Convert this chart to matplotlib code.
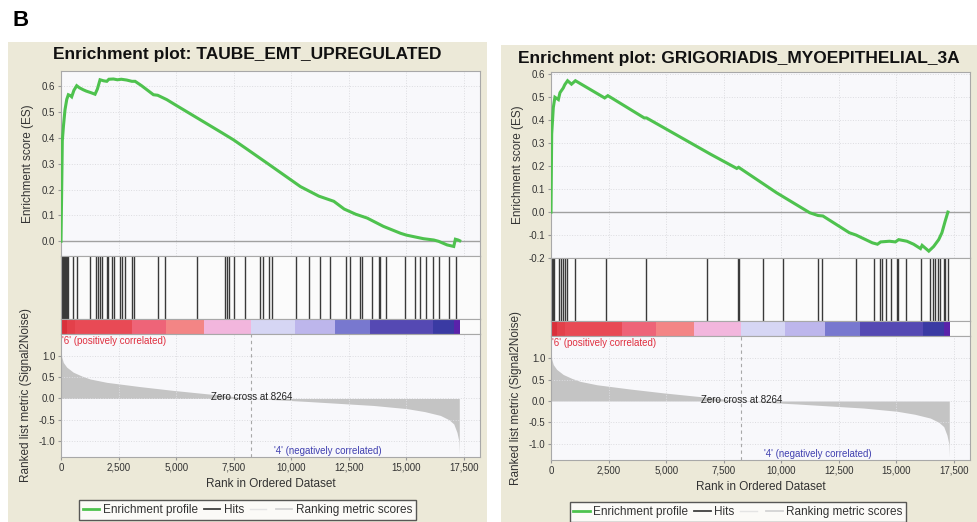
import numpy as np
import matplotlib
matplotlib.use("Agg")
import matplotlib.pyplot as plt
from matplotlib.patches import Rectangle
from matplotlib.lines import Line2D

plt.rcParams['font.family'] = ['Liberation Sans', 'DejaVu Sans']

W, H = 978, 522

# ---- data ----
# shared ranked list (same dataset in both panels)
metric_rank = [0, 30, 100, 245, 530, 900, 1260, 1990, 3430, 4880, 6340, 7780, 8264,
               10690, 13580, 15030, 15800, 16480, 16850, 17060, 17200, 17280, 17300]
metric_vals = [1.22, 0.98, 0.85, 0.74, 0.62, 0.53, 0.46, 0.38, 0.28, 0.19, 0.11, 0.03, 0.0,
               -0.07, -0.165, -0.24, -0.31, -0.40, -0.50, -0.60, -0.80, -1.0, -1.3]
zero_cross = 8264
n_genes = 17320

cbar_edges = [0, 248, 609, 3075, 4554, 6190, 8264, 10179, 11889, 13412, 16152, 17065, 17320]
cbar_colors = ['#d9303a', '#e3404a', '#e84a55', '#ee6478', '#f38585', '#f2b6dd',
               '#d6d6f4', '#bdb6ec', '#7878cf', '#5549b3', '#3a3aa3', '#5a22aa']

# left: TAUBE_EMT_UPREGULATED
left_title = "Enrichment plot: TAUBE_EMT_UPREGULATED"
left_es_rank = [0, 30, 57, 110, 174, 250, 319, 400, 464, 560, 682, 800, 972, 1100, 1300,
                1479, 1580, 1696, 1850, 1990, 2080, 2276, 2450, 2620, 2850, 3080, 3219,
                3500, 4016, 4200, 4596, 5000, 6047, 7000, 7496, 8000, 8950, 10400, 11200,
                11850, 12300, 12800, 13300, 14000, 14750, 15000, 15320, 15750, 16190,
                16400, 16770, 17060, 17130, 17250, 17320]
left_es_vals = [0.0, 0.20, 0.39, 0.45, 0.51, 0.55, 0.568, 0.565, 0.56, 0.585, 0.603, 0.595,
                0.587, 0.582, 0.576, 0.57, 0.59, 0.626, 0.622, 0.62, 0.628, 0.629, 0.626,
                0.628, 0.625, 0.62, 0.62, 0.603, 0.568, 0.566, 0.549, 0.527, 0.471, 0.42,
                0.393, 0.362, 0.303, 0.212, 0.175, 0.155, 0.125, 0.105, 0.09, 0.058, 0.031,
                0.024, 0.018, 0.01, 0.005, 0.0, -0.014, -0.02, 0.008, 0.005, 0.002]
left_hits = [0, 40, 80, 120, 160, 200, 240, 280, 320, 535, 683, 1262, 1509, 1596, 1697,
             1770, 1988, 2058, 2232, 2319, 2567, 2640, 2784, 3075, 3176, 4206, 4524, 5903,
             7134, 7208, 7308, 7526, 7974, 8657, 8787, 9018, 9165, 10209, 10758, 11267,
             11702, 12384, 12541, 12976, 13080, 13515, 13803, 13877, 14125, 14921, 15356,
             15586, 15864, 16169, 16413, 16848, 17139]

# right: GRIGORIADIS_MYOEPITHELIAL_3A
right_title = "Enrichment plot: GRIGORIADIS_MYOEPITHELIAL_3A"
right_es_rank = [0, 30, 100, 170, 320, 390, 530, 600, 720, 890, 1060, 2330, 2470, 4050,
                 4150, 6930, 8070, 8150, 9800, 11240, 11600, 11810, 12960, 13250, 13960,
                 14180, 14320, 14700, 14960, 15100, 15460, 15750, 16050, 16120, 16410,
                 16620, 16840, 16980, 17120, 17240]
right_es_vals = [0.0, 0.34, 0.455, 0.50, 0.49, 0.52, 0.54, 0.555, 0.572, 0.557, 0.572,
                 0.497, 0.507, 0.41, 0.41, 0.252, 0.19, 0.195, 0.084, -0.003, -0.015,
                 -0.017, -0.09, -0.10, -0.134, -0.14, -0.13, -0.127, -0.13, -0.12, -0.127,
                 -0.14, -0.159, -0.145, -0.17, -0.15, -0.12, -0.09, -0.04, 0.0]
right_hits = [0, 35, 70, 105, 143, 346, 420, 533, 606, 680, 1039, 2381, 4144, 6785, 8110,
              8153, 9223, 10058, 11604, 11790, 13236, 14028, 14288, 14362, 14535, 14751,
              15037, 15080, 15401, 16077, 16484, 16583, 16700, 16813, 16917, 17060, 17134,
              17234]

xticks = [0, 2500, 5000, 7500, 10000, 12500, 15000, 17500]
xtick_labels = ['0', '2,500', '5,000', '7,500', '10,000', '12,500', '15,000', '17,500']
metric_ticks = [-1.0, -0.5, 0.0, 0.5, 1.0]
XMAX = 18200

BEIGE = '#ece9d8'
PLOTBG = '#f8f8fb'
GREEN = '#4ec24e'
SPINE = '#a8a8a8'
TICKC = '#333333'


def rect(x, y, w, h):
    return [x / W, 1 - (y + h) / H, w / W, h / H]


def style(ax):
    for s in ax.spines.values():
        s.set_color(SPINE)
        s.set_linewidth(0.8)
    ax.tick_params(length=2, color='#999999', labelsize=7, labelcolor=TICKC, pad=2)


def draw_panel(fig, bg, x0, es_y, hit_y, cb_y, met_y, title_xy, leg_xy,
               title, es_rank, es_vals, es_ylim, es_ticks, hits):
    fig.patches.append(Rectangle((bg[0] / W, 1 - (bg[1] + bg[3]) / H), bg[2] / W, bg[3] / H,
                                 transform=fig.transFigure, facecolor=BEIGE,
                                 edgecolor='none', zorder=-10))
    aw = 419
    fig.text(title_xy[0] / W, 1 - title_xy[1] / H, title, ha='center', va='center',
             fontsize=12.5, fontweight='bold', color='#111111')

    # enrichment score
    ax1 = fig.add_axes(rect(x0, es_y[0], aw, es_y[1] - es_y[0]))
    ax1.set_facecolor(PLOTBG)
    ax1.plot(es_rank, es_vals, color=GREEN, lw=2.2, solid_joinstyle='miter', zorder=3)
    ax1.axhline(0, color='#a0a0a0', lw=1, zorder=2)
    ax1.set_xlim(0, XMAX)
    ax1.set_ylim(*es_ylim)
    ax1.set_xticks(xticks)
    ax1.set_yticks(es_ticks)
    ax1.set_yticklabels(['%.1f' % t for t in es_ticks])
    ax1.tick_params(axis='x', labelbottom=False, length=0)
    ax1.grid(True, color='#dcdce0', lw=0.7, ls=':')
    style(ax1)
    fig.text((x0 - 33) / W, 1 - (es_y[0] + es_y[1]) / 2 / H, 'Enrichment score (ES)',
             rotation=90, ha='center', va='center', fontsize=8.5, color='#333333')

    # hits
    ax2 = fig.add_axes(rect(x0, hit_y[0], aw, hit_y[1] - hit_y[0]))
    ax2.set_facecolor('#fbfbfb')
    ax2.vlines(hits, 0, 1, color='#3a3a3a', lw=1.0)
    ax2.set_xlim(0, XMAX)
    ax2.set_ylim(0, 1)
    ax2.set_xticks([])
    ax2.set_yticks([])
    style(ax2)

    # colour bar of ranked list
    ax3 = fig.add_axes(rect(x0, cb_y[0], aw, cb_y[1] - cb_y[0]))
    ax3.set_facecolor('#fbfbfb')
    segs = [(cbar_edges[i], cbar_edges[i + 1] - cbar_edges[i]) for i in range(len(cbar_colors))]
    ax3.broken_barh(segs, (0, 1), facecolors=cbar_colors, edgecolor='none')
    ax3.set_xlim(0, XMAX)
    ax3.set_ylim(0, 1)
    ax3.set_xticks([])
    ax3.set_yticks([])
    style(ax3)

    # ranked list metric
    ax4 = fig.add_axes(rect(x0, met_y[0], aw, met_y[1] - met_y[0]))
    ax4.set_facecolor(PLOTBG)
    ax4.fill_between(metric_rank, metric_vals, 0, color='#c4c4c4', lw=0)
    ax4.axvline(zero_cross, color='#a8a8a8', lw=0.8, ls=(0, (3, 3)))
    ax4.set_xlim(0, XMAX)
    ax4.set_ylim(-1.38, 1.52)
    ax4.set_xticks(xticks)
    ax4.set_xticklabels(xtick_labels)
    ax4.set_yticks(metric_ticks)
    ax4.set_yticklabels(['%.1f' % t for t in metric_ticks])
    ax4.grid(True, color='#dcdce0', lw=0.7, ls=':')
    style(ax4)
    ax4.text(60, 1.36, "'6' (positively correlated)", color='#e03040', fontsize=7,
             ha='left', va='center')
    ax4.text(11570, -1.24, "'4' (negatively correlated)", color='#4040b0', fontsize=7,
             ha='center', va='center')
    ax4.text(zero_cross, 0.03, 'Zero cross at %d' % zero_cross, color='#222222',
             fontsize=7, ha='center', va='center')
    fig.text((x0 - 35) / W, 1 - (met_y[0] + met_y[1]) / 2 / H,
             'Ranked list metric (Signal2Noise)', rotation=90, ha='center', va='center',
             fontsize=8.5, color='#333333')
    fig.text((x0 + aw / 2) / W, 1 - (met_y[1] + 27) / H, 'Rank in Ordered Dataset',
             ha='center', va='center', fontsize=8.5, color='#333333')

    handles = [Line2D([], [], color=GREEN, lw=2),
               Line2D([], [], color='#404040', lw=1.3),
               Line2D([], [], color='#e4e4e4', lw=1.0),
               Line2D([], [], color='#d4d4d4', lw=1.3)]
    labels = ['Enrichment profile', 'Hits', '', 'Ranking metric scores']
    leg = fig.legend(handles, labels, loc='center',
                     bbox_to_anchor=(leg_xy[0] / W, 1 - leg_xy[1] / H), ncol=4,
                     fontsize=8.5, frameon=True, fancybox=False, handlelength=1.4,
                     handletextpad=0.3, columnspacing=0.5, borderpad=0.3,
                     borderaxespad=0)
    leg.get_frame().set_edgecolor('#303030')
    leg.get_frame().set_linewidth(1.0)
    leg.get_frame().set_facecolor('white')
    for t in leg.get_texts():
        t.set_color('#333333')


fig = plt.figure(figsize=(W / 100, H / 100), dpi=100)
fig.patch.set_facecolor('white')
fig.text(13 / W, 1 - 21 / H, 'B', fontsize=16, fontweight='bold', ha='left', va='center')

draw_panel(fig, (8, 42, 479, 480), 61, (71, 256), (256, 319), (319, 334), (334, 457),
           (247, 55), (247.5, 510), left_title, left_es_rank, left_es_vals,
           (-0.057, 0.66), [0.0, 0.1, 0.2, 0.3, 0.4, 0.5, 0.6], left_hits)
draw_panel(fig, (501, 45, 477, 477), 551, (72, 258), (258, 321), (321, 336), (336, 460),
           (739, 58), (738, 512), right_title, right_es_rank, right_es_vals,
           (-0.2, 0.61), [-0.2, -0.1, 0.0, 0.1, 0.2, 0.3, 0.4, 0.5, 0.6], right_hits)

fig.savefig('out.png', dpi=100, facecolor=fig.get_facecolor())
